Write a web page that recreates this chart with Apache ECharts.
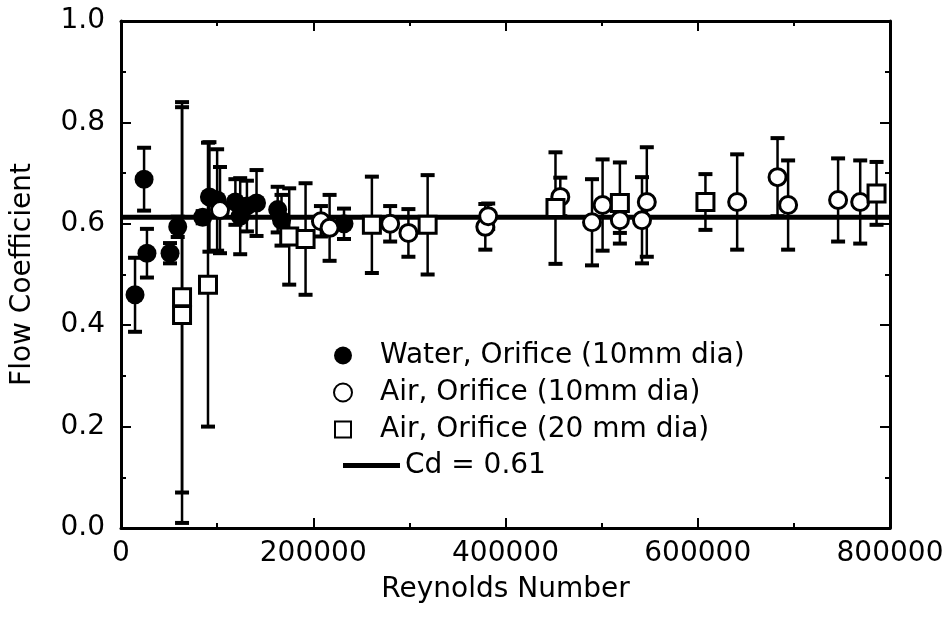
<!DOCTYPE html>
<html>
<head>
<meta charset="utf-8">
<script src="https://cdn.jsdelivr.net/npm/echarts@6/dist/echarts.min.js"></script>
<style>html,body{margin:0;padding:0;background:#fff}#c{width:952px;height:628px}</style>
</head>
<body>
<div id="c"></div>
<script>
// Water, Orifice (10mm dia): Reynolds number, flow coefficient, error half-width
const waterX   = [14600, 24000, 27000, 51000, 59000, 85000, 92000, 100000, 119000, 124000, 131000, 141000, 163000, 167000, 232000];
const waterY   = [0.46, 0.688, 0.542, 0.542, 0.594, 0.613, 0.653, 0.647, 0.643, 0.615, 0.635, 0.641, 0.628, 0.607, 0.60];
const waterErr = [0.073, 0.062, 0.048, 0.02, 0.02, 0.012, 0.108, 0.10, 0.045, 0.075, 0.05, 0.065, 0.045, 0.05, 0.03];

// Air, Orifice (10mm dia)
const air10X   = [103000, 208000, 217000, 280000, 299000, 379000, 382000, 457000, 490000, 501000, 519000, 542000, 547000, 641000, 683000, 694000, 746000, 769000];
const air10Y   = [0.627, 0.605, 0.592, 0.60, 0.582, 0.594, 0.615, 0.653, 0.603, 0.637, 0.607, 0.607, 0.643, 0.643, 0.692, 0.637, 0.647, 0.643];
const air10Err = [0.085, 0.03, 0.065, 0.035, 0.047, 0.045, 0.025, 0.038, 0.085, 0.09, 0.025, 0.085, 0.108, 0.094, 0.077, 0.088, 0.082, 0.082];

// Air, Orifice (20 mm dia)
const air20X   = [63500, 63500, 90500, 175000, 192000, 261000, 319000, 452000, 519000, 608000, 786000];
const air20Y   = [0.455, 0.42, 0.48, 0.575, 0.57, 0.598, 0.598, 0.631, 0.641, 0.643, 0.66];
const air20Err = [0.385, 0.41, 0.28, 0.095, 0.11, 0.095, 0.098, 0.11, 0.08, 0.055, 0.062];

// Cd line
const cdValue = 0.613;
const cdX = [0, 800000];

// Axis ticks
const xTicks = [0, 200000, 400000, 600000, 800000];
const yTicks = [0.0, 0.2, 0.4, 0.6, 0.8, 1.0];

const names = ['Water, Orifice (10mm dia)', 'Air, Orifice (10mm dia)', 'Air, Orifice (20 mm dia)', 'Cd = 0.61'];

function zip(xs, ys, es) { return xs.map((x, i) => [x, ys[i], es[i]]); }
const waterData = zip(waterX, waterY, waterErr);
const air10Data = zip(air10X, air10Y, air10Err);
const air20Data = zip(air20X, air20Y, air20Err);

const FONT = 'DejaVu Sans';

function errRender(params, api) {
  const x = api.value(0), y = api.value(1), e = api.value(2);
  const top = api.coord([x, y + e]);
  const bot = api.coord([x, y - e]);
  const hw = 7;
  const st = { stroke: '#000', lineWidth: 2.5 };
  const cs = { stroke: '#000', lineWidth: 4 };
  return {
    type: 'group',
    children: [
      { type: 'line', shape: { x1: top[0], y1: top[1], x2: bot[0], y2: bot[1] }, style: st },
      { type: 'line', shape: { x1: top[0] - hw, y1: top[1], x2: top[0] + hw, y2: top[1] }, style: cs },
      { type: 'line', shape: { x1: bot[0] - hw, y1: bot[1], x2: bot[0] + hw, y2: bot[1] }, style: cs }
    ]
  };
}

const axisLine = { show: true, onZero: false, lineStyle: { color: '#000', width: 3 } };
const tick = { show: true, inside: true, length: 10, lineStyle: { color: '#000', width: 2 } };
const minor = { show: true, splitNumber: 2, length: 5, lineStyle: { color: '#000', width: 2 } };
const lbl = { color: '#000', fontSize: 28, fontFamily: FONT };

const chart = echarts.init(document.getElementById('c'), null, { renderer: 'canvas' });
chart.setOption({
  animation: false,
  backgroundColor: '#fff',
  grid: { left: 121, right: 62, top: 21, bottom: 100, show: false },
  xAxis: [
    {
      type: 'value', position: 'bottom', min: xTicks[0], max: xTicks[xTicks.length - 1], interval: xTicks[1] - xTicks[0],
      axisLine: axisLine, axisTick: tick, minorTick: minor, splitLine: { show: false },
      axisLabel: Object.assign({ margin: 12, formatter: v => String(v) }, lbl),
      name: 'Reynolds Number', nameLocation: 'middle', nameGap: 48,
      nameTextStyle: { color: '#000', fontSize: 28, fontFamily: FONT }
    },
    {
      type: 'value', position: 'top', min: xTicks[0], max: xTicks[xTicks.length - 1], interval: xTicks[1] - xTicks[0],
      axisLine: axisLine, axisTick: tick, minorTick: minor, splitLine: { show: false }, axisLabel: { show: false }
    }
  ],
  yAxis: [
    {
      type: 'value', position: 'left', min: yTicks[0], max: yTicks[yTicks.length - 1], interval: 0.2,
      axisLine: axisLine, axisTick: tick, minorTick: minor, splitLine: { show: false },
      axisLabel: Object.assign({ margin: 16, formatter: v => v.toFixed(1) }, lbl),
      name: 'Flow Coefficient', nameLocation: 'middle', nameGap: 84, nameRotate: 90,
      nameTextStyle: { color: '#000', fontSize: 28, fontFamily: FONT }
    },
    {
      type: 'value', position: 'right', min: yTicks[0], max: yTicks[yTicks.length - 1], interval: 0.2,
      axisLine: axisLine, axisTick: tick, minorTick: minor, splitLine: { show: false }, axisLabel: { show: false }
    }
  ],
  legend: [
    {
      data: [names[0], names[1], { name: names[2], icon: 'path://M0,0M64,18M24,1L40,1L40,17L24,17Z' }],
      orient: 'vertical', left: 305, top: 332,
      itemWidth: 64, itemHeight: 18, itemGap: 0,
      textStyle: { color: '#000', fontSize: 28, fontFamily: FONT, lineHeight: 37 }
    },
    {
      data: [{ name: names[3], icon: 'rect' }], orient: 'vertical', left: 338, top: 442,
      itemWidth: 57, itemHeight: 5, itemGap: 0,
      itemStyle: { color: '#000', borderWidth: 0 },
      textStyle: { color: '#000', fontSize: 28, fontFamily: FONT, lineHeight: 37 }
    }
  ],
  series: [
    { type: 'custom', name: 'errW', renderItem: errRender, data: waterData, encode: { x: 0, y: 1 }, z: 2, clip: true, silent: true },
    { type: 'custom', name: 'errA10', renderItem: errRender, data: air10Data, encode: { x: 0, y: 1 }, z: 2, clip: true, silent: true },
    { type: 'custom', name: 'errA20', renderItem: errRender, data: air20Data, encode: { x: 0, y: 1 }, z: 2, clip: true, silent: true },
    {
      type: 'line', name: names[3], data: cdX.map(x => [x, cdValue]), symbol: 'none', showSymbol: false, z: 3,
      lineStyle: { color: '#000', width: 5 }, itemStyle: { color: '#000' }
    },
    {
      type: 'scatter', name: names[0], data: waterData, symbol: 'circle', symbolSize: 19, z: 4,
      itemStyle: { color: '#000', opacity: 1 }
    },
    {
      type: 'scatter', name: names[1], data: air10Data, symbol: 'circle', symbolSize: 17, z: 4,
      itemStyle: { color: '#fff', borderColor: '#000', borderWidth: 3, opacity: 1 }
    },
    {
      type: 'scatter', name: names[2], data: air20Data, symbol: 'rect', symbolSize: 17, z: 4,
      itemStyle: { color: '#fff', borderColor: '#000', borderWidth: 3, opacity: 1 }
    }
  ]
});
</script>
</body>
</html>
